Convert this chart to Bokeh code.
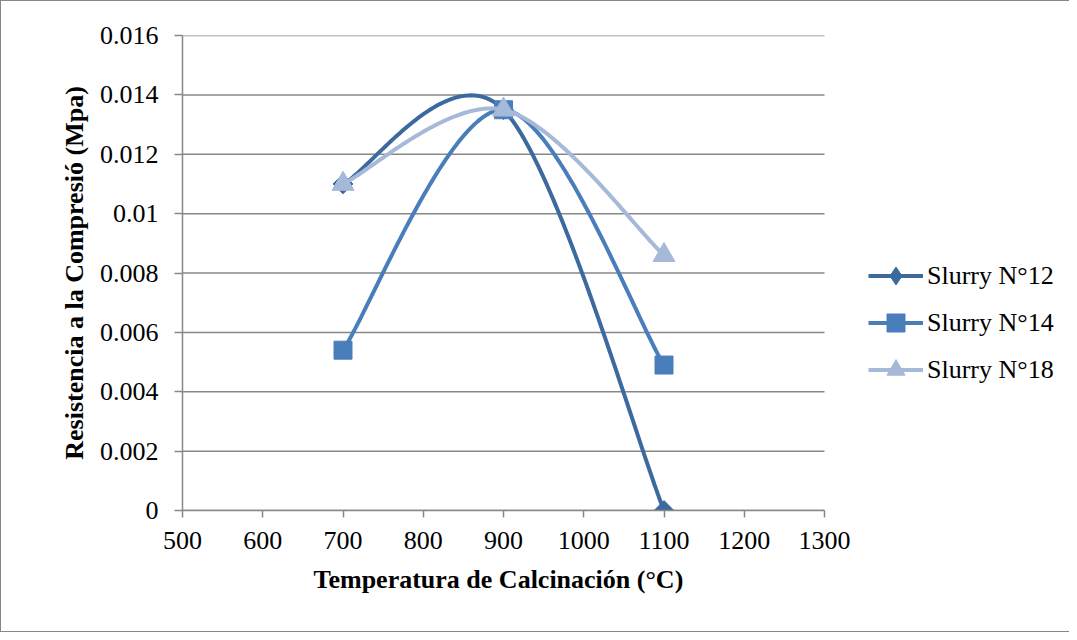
import numpy as np
from bokeh.plotting import figure
from bokeh.models import Legend, LegendItem, CustomJSTickFormatter, FixedTicker, Range1d, Title
from bokeh.embed import file_html
from bokeh.resources import INLINE

temps = [700, 900, 1100]
slurry12 = [0.011, 0.0135, 0.0]
slurry14 = [0.0054, 0.0135, 0.0049]
slurry18 = [0.011, 0.0135, 0.0086]
names = ["Slurry N°12", "Slurry N°14", "Slurry N°18"]
colors = ["#3C6A9E", "#4A7EBB", "#A6B9D8"]
x_ticks = [500, 600, 700, 800, 900, 1000, 1100, 1200, 1300]
y_ticks = [0, 0.002, 0.004, 0.006, 0.008, 0.01, 0.012, 0.014, 0.016]
x_title = "Temperatura de Calcinación (°C)"
y_title = "Resistencia a la Compresió (Mpa)"


def smooth(xs, ys, n=60):
    pts = np.column_stack([xs, ys]).astype(float)
    m = len(pts)
    out = []
    for i in range(m - 1):
        p0, p1 = pts[i], pts[i + 1]
        pm = pts[i - 1] if i > 0 else pts[i]
        pp = pts[i + 2] if i + 2 < m else pts[i + 1]
        c1 = p0 + (p1 - pm) / 6.0
        c2 = p1 - (pp - p0) / 6.0
        t = np.linspace(0, 1, n)[:, None]
        seg = (1 - t) ** 3 * p0 + 3 * (1 - t) ** 2 * t * c1 + 3 * (1 - t) * t ** 2 * c2 + t ** 3 * p1
        out.append(seg if i == 0 else seg[1:])
    arr = np.vstack(out)
    return arr[:, 0], arr[:, 1]


FONT = "Liberation Serif"
GRID = "#878787"

# layout (pixels): plotted axis spans 642 px for x 500..1300; frame continues right to hold the legend
W, H = 1069, 632
LEFT, TOP, BOTTOM, RIGHT = 181, 34, 123, 1
AXIS_PX = 642
frame_px = W - LEFT - RIGHT
x_lo, x_hi = x_ticks[0], x_ticks[-1]
x_view_end = x_lo + (x_hi - x_lo) * frame_px / AXIS_PX

p = figure(width=W, height=H, output_backend="svg", toolbar_location=None,
           x_range=Range1d(x_lo, x_view_end), y_range=Range1d(y_ticks[0], y_ticks[-1]),
           min_border_left=LEFT, min_border_right=RIGHT, min_border_top=TOP, min_border_bottom=BOTTOM)
p.styles = {"border-left": "1px solid #878787", "border-top": "1px solid #878787",
            "border-bottom": "1px solid #878787"}
p.outline_line_color = None
p.xgrid.grid_line_color = None
p.ygrid.grid_line_color = None

# horizontal gridlines limited to the axis extent
p.segment(x0=[x_lo] * len(y_ticks), y0=y_ticks, x1=[x_hi] * len(y_ticks), y1=y_ticks,
          line_color=GRID, line_width=1.5)

p.xaxis.ticker = FixedTicker(ticks=x_ticks)
p.xaxis.bounds = (x_lo, x_hi)
p.yaxis.ticker = FixedTicker(ticks=y_ticks)
p.yaxis.formatter = CustomJSTickFormatter(code="return Number(tick.toFixed(3)).toString();")
for ax in (p.xaxis[0], p.yaxis[0]):
    ax.axis_line_color = GRID
    ax.axis_line_width = 1.5
    ax.major_tick_line_color = GRID
    ax.major_tick_line_width = 1.5
    ax.major_tick_in = 0
    ax.minor_tick_line_color = None
    ax.major_label_text_font = FONT
    ax.major_label_text_font_size = "26px"
    ax.major_label_text_color = "black"
    ax.axis_label_text_font = FONT
    ax.axis_label_text_font_size = "26px"
    ax.axis_label_text_font_style = "bold"
    ax.axis_label_text_color = "black"
p.xaxis.major_tick_out = 7
p.yaxis.major_tick_out = 8
p.xaxis.major_label_standoff = 14
p.yaxis.major_label_standoff = 16
p.yaxis.axis_label = y_title
p.yaxis.axis_label_standoff = 8

p.add_layout(Title(text=x_title, align="left", offset=131, standoff=22,
                   text_font=FONT, text_font_size="26px", text_font_style="bold",
                   text_color="black"), "below")

series = [slurry12, slurry14, slurry18]
markers = [("square", 14, np.pi / 4), ("square", 18, 0.0), ("triangle", 22, 0.0)]
legend_markers = ["diamond", "square", "triangle"]
items = []
for name, ys, col, (mk, sz, ang), lmk in zip(names, series, colors, markers, legend_markers):
    sx, sy = smooth(temps, ys)
    ln = p.line(sx, sy, line_color=col, line_width=4)
    rs = [ln]
    if lmk != mk:
        # smaller diamond hidden under the rotated square: provides the legend's diamond glyph
        rs.append(p.scatter(temps, ys, marker=lmk, size=12, fill_color=col, line_color=col))
    sc = p.scatter(temps, ys, marker=mk, size=sz, angle=ang, fill_color=col, line_color=col)
    if lmk == mk:
        rs.append(sc)
    items.append(LegendItem(label=name, renderers=rs))

legend = Legend(items=items, location=(686, 118), border_line_color=None,
                background_fill_alpha=0, padding=0, margin=0, spacing=2,
                glyph_width=55, glyph_height=45, label_height=45, label_standoff=4,
                label_text_font=FONT, label_text_font_size="26px", label_text_color="black")
p.add_layout(legend, "center")

open("out.html", "w").write(file_html(p, INLINE))
